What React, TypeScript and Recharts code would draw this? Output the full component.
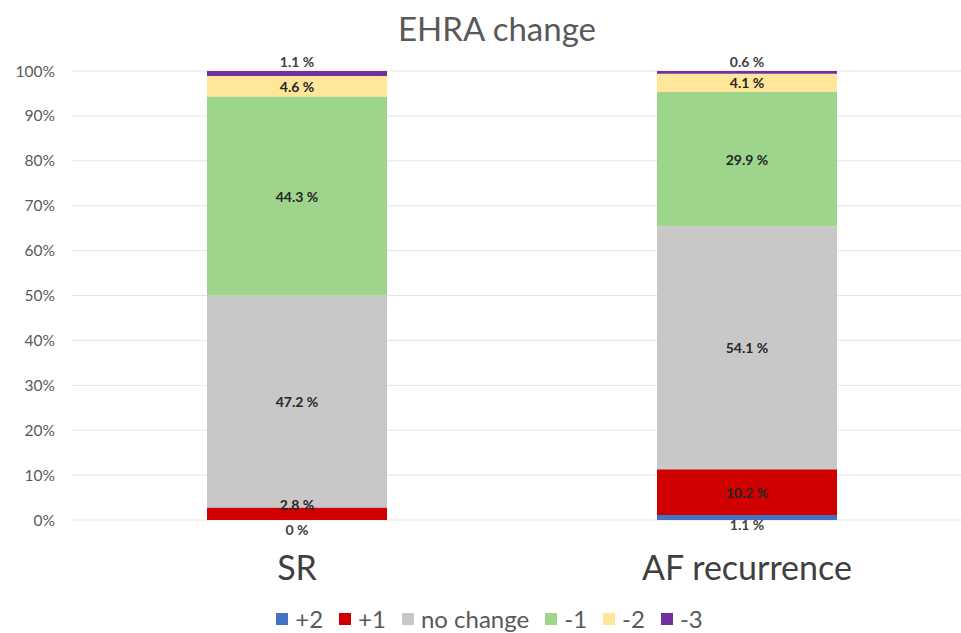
import React from "react";
import {
  BarChart,
  Bar,
  XAxis,
  YAxis,
  CartesianGrid,
  Legend,
  LabelList,
} from "recharts";

const groups = ["SR", "AF recurrence"];
const plus2 = [0, 1.1];
const plus1 = [2.8, 10.2];
const noChange = [47.2, 54.1];
const minus1 = [44.3, 29.9];
const minus2 = [4.6, 4.1];
const minus3 = [1.1, 0.6];
const yTicks = [0, 10, 20, 30, 40, 50, 60, 70, 80, 90, 100];

const data = groups.map((g, i) => ({
  name: g,
  p2: plus2[i],
  p1: plus1[i],
  nc: noChange[i],
  m1: minus1[i],
  m2: minus2[i],
  m3: minus3[i],
}));

const SERIES = [
  { key: "p2", name: "+2", color: "#4472c4", place: "none" },
  { key: "p1", name: "+1", color: "#d00000", place: "nudge" },
  { key: "nc", name: "no change", color: "#c8c8c8", place: "center" },
  { key: "m1", name: "-1", color: "#9cd58b", place: "center" },
  { key: "m2", name: "-2", color: "#ffe699", place: "center" },
  { key: "m3", name: "-3", color: "#7030a0", place: "above" },
];

const FONT = "Lato, 'Open Sans', sans-serif";

function makeLabel(place: string) {
  return (props: any) => {
    const { x, y, width, height, value } = props;
    const cx = Number(x) + Number(width) / 2;
    const top = Number(y);
    const h = Number(height);
    let cy = top + h / 2;
    let fill = "#262626";
    if (place === "below") {
      // drawn from the +1 bar: sits under the whole stack
      cy = top + h + 9;
      fill = "#404040";
    } else if (place === "above") {
      cy = top - 10;
      fill = "#404040";
    } else if (place === "nudge" && h < 20) {
      cy = top - 3;
    }
    return (
      <text
        x={cx}
        y={cy}
        textAnchor="middle"
        dominantBaseline="central"
        fontSize={14}
        fontWeight={700}
        fontFamily={FONT}
        fill={fill}
      >
        {`${value} %`}
      </text>
    );
  };
}

function LegendContent() {
  return (
    <div
      style={{
        display: "flex",
        justifyContent: "center",
        gap: 16,
        fontFamily: FONT,
        fontSize: 24,
        color: "#595959",
        paddingLeft: 18,
      }}
    >
      {SERIES.map((s) => (
        <span key={s.key} style={{ display: "flex", alignItems: "center" }}>
          <span
            style={{
              display: "inline-block",
              width: 12,
              height: 12,
              background: s.color,
              marginRight: 7,
            }}
          />
          {s.name}
        </span>
      ))}
    </div>
  );
}

export default function App() {
  return (
    <div
      style={{
        position: "absolute",
        left: 0,
        top: 0,
        width: 961,
        height: 633,
        overflow: "hidden",
        background: "#fff",
      }}
    >
      <div
        style={{
          position: "absolute",
          top: 8,
          left: 0,
          width: 994,
          textAlign: "center",
          fontFamily: FONT,
          fontSize: 33,
          color: "#595959",
        }}
      >
        EHRA change
      </div>
      <BarChart
        width={980}
        height={633}
        data={data}
        margin={{ top: 71, right: 8, left: 0, bottom: 53 }}
      >
        <CartesianGrid vertical={false} stroke="#e4e4e4" />
        <XAxis
          dataKey="name"
          axisLine={false}
          tickLine={false}
          height={60}
          tickMargin={30}
          tick={{ fontSize: 34, fill: "#404040", fontFamily: FONT }}
        />
        <YAxis
          width={72}
          domain={[0, 100]}
          ticks={yTicks}
          tickFormatter={(v) => `${v}%`}
          axisLine={false}
          tickLine={false}
          tickMargin={11}
          tick={{ fontSize: 15.5, fill: "#595959", fontFamily: FONT }}
        />
        <Legend
          verticalAlign="middle"
          align="center"
          wrapperStyle={{ top: 604, left: 0, width: 961 }}
          content={<LegendContent />}
        />
        {SERIES.map((s) => (
          <Bar
            key={s.key}
            dataKey={s.key}
            name={s.name}
            stackId="a"
            fill={s.color}
            barSize={180}
            isAnimationActive={false}
          >
            {s.place !== "none" && (
              <LabelList dataKey={s.key} content={makeLabel(s.place)} />
            )}
            {s.key === "p1" && (
              <LabelList dataKey="p2" content={makeLabel("below")} />
            )}
          </Bar>
        ))}
      </BarChart>
    </div>
  );
}
